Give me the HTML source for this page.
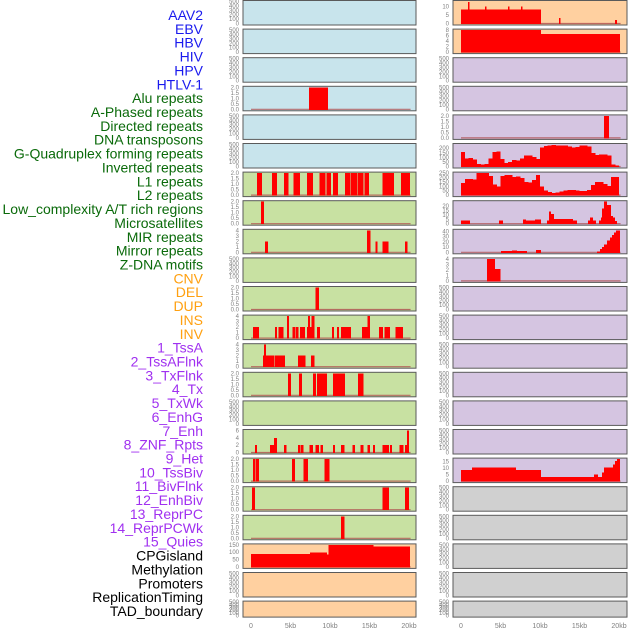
<!DOCTYPE html>
<html><head><meta charset="utf-8">
<style>
html,body{margin:0;padding:0;background:#fff;}
svg{display:block;font-family:"Liberation Sans",sans-serif;}
</style></head>
<body>
<svg id="chart" width="630" height="630" viewBox="0 0 630 630" xmlns="http://www.w3.org/2000/svg"></svg>
<script>
// ---------- data ----------
const trackLabels = ["AAV2","EBV","HBV","HIV","HPV","HTLV-1","Alu repeats","A-Phased repeats","Directed repeats","DNA transposons","G-Quadruplex forming repeats","Inverted repeats","L1 repeats","L2 repeats","Low_complexity A/T rich regions","Microsatellites","MIR repeats","Mirror repeats","Z-DNA motifs","CNV","DEL","DUP","INS","INV","1_TssA","2_TssAFlnk","3_TxFlnk","4_Tx","5_TxWk","6_EnhG","7_Enh","8_ZNF_Rpts","9_Het","10_TssBiv","11_BivFlnk","12_EnhBiv","13_ReprPC","14_ReprPCWk","15_Quies","CPGisland","Methylation","Promoters","ReplicationTiming","TAD_boundary"];
const labelGroups = ["virus","virus","virus","virus","virus","virus","repeat","repeat","repeat","repeat","repeat","repeat","repeat","repeat","repeat","repeat","repeat","repeat","repeat","sv","sv","sv","sv","sv","state","state","state","state","state","state","state","state","state","state","state","state","state","state","state","other","other","other","other","other"];
const xTickValues = [0,5,10,15,20];
const xTickLabels = ["0","5kb","10kb","15kb","20kb"];

// segments: [startKb, endKb, value]
const leftAlu = [[7.34,9.7,2]];
const leftL1 = [[0.8,1.35,2],[2.7,3.25,2],[4.2,4.7,2],[5.4,6.2,2],[7.1,7.85,2],[8.7,9.4,2],[9.6,10.1,2],[10.4,11.0,2],[11.9,12.5,2],[12.65,13.4,2],[13.5,14.2,2],[14.4,14.9,2],[16.7,18.1,2],[19.0,20.1,2]];
const leftRow7 = [[1.27,1.6,2]];
const leftRow8 = [[1.77,2.1,2],[14.7,15.1,4],[15.8,16.0,2],[16.7,17.0,2],[17.05,17.4,2],[19.5,19.8,2]];
const leftRow10 = [[8.2,8.55,2]];
const leftRow11 = [[0.3,1.0,2],[3.04,3.25,2],[3.5,4.1,2],[4.6,4.8,4],[5.3,5.6,2],[5.7,6.0,2],[6.2,6.8,2],[7.1,7.4,2],[7.25,7.45,4],[7.7,8.0,4],[7.45,7.7,2],[8.35,8.7,2],[10.25,10.5,2],[10.9,11.1,2],[11.4,12.65,2],[14.05,14.7,2],[14.8,15.05,4],[16.2,16.7,2],[16.95,17.6,2],[18.3,18.65,2],[18.7,19.2,2]];
const leftRow12 = [[1.57,2.9,2],[1.65,1.85,4],[3.0,4.3,2],[5.95,6.85,2],[7.6,8.0,2]];
const leftRow13 = [[4.7,5.05,2],[6.1,6.45,2],[7.85,8.2,2],[8.35,9.0,2],[9.1,9.6,2],[10.4,11.9,2],[13.55,14.2,2]];
const leftRow15 = [[0.5,0.72,2],[2.4,3.05,2],[2.95,3.25,4],[4.2,4.45,2],[5.95,6.2,2],[6.3,6.6,2],[7.45,7.85,2],[8.2,8.6,2],[8.85,9.1,2],[10.4,10.6,2],[11.4,11.8,2],[12.9,13.15,2],[13.9,14.2,2],[14.8,15.05,2],[15.45,15.7,2],[16.7,17.45,2],[17.6,17.85,2],[18.85,19.25,2],[19.5,19.75,2],[19.75,20.0,6]];
const leftRow16 = [[0.25,0.55,2],[0.63,1.0,2],[5.2,5.55,2],[6.7,7.2,2],[9.35,9.9,2]];
const leftRow17 = [[0.13,0.5,2],[16.7,17.45,2],[19.5,20.0,2]];
const leftRow18 = [[11.4,11.8,2]];
const leftCpg = [[0,7.5,87],[7.5,9.6,97],[9.6,9.85,85],[9.85,15.45,150],[15.45,20.1,140]];

const rightRow0 = [[0,10.1,8.2],[0.9,1.05,12.7],[3.04,3.2,10],[5.95,6.1,10],[7.6,7.75,10],[12.4,12.55,3.3],[19.5,19.7,2.2]];
const rightRow1 = [[0,10.1,8],[10.1,20.1,6.6]];
const rightRow4 = [[18.1,18.7,2]];
const rightRow5Bins = [160,85,95,75,30,20,30,85,160,165,80,40,50,70,65,85,120,120,105,80,210,225,230,235,230,230,230,220,205,215,230,230,220,150,125,130,130,120,20,10];
const rightRow6Bins = [140,185,185,175,250,250,250,215,120,95,215,230,230,205,210,195,150,145,170,230,100,50,35,25,30,40,55,60,60,55,45,45,60,115,150,150,125,105,205,205];
const rightRow7 = [[0,1.14,3.5],[4.81,5.32,3.5],[7.85,8.23,5],[8.23,9.37,3.5],[9.37,10.13,5],[10.93,11.14,3.5],[11.14,11.39,14],[11.39,11.77,11],[11.77,14.18,5.5],[14.18,14.68,3.5],[16.08,16.33,3.5],[16.33,16.71,7],[16.71,17.09,3.5],[17.47,17.72,3.5],[17.72,17.85,7],[17.85,18.1,17],[18.1,18.48,25],[18.48,18.99,21],[18.99,19.24,9],[19.24,19.49,7],[19.49,19.75,3]];
const rightRow8 = [[5.06,6.46,2.5],[6.46,7.09,3.5],[7.09,8.35,2.5],[9.49,10.13,4],[17.22,17.6,2],[17.6,17.85,6],[17.85,18.1,10],[18.1,18.48,15],[18.48,18.86,23],[18.86,19.11,28],[19.11,19.37,33],[19.37,19.62,38],[19.62,20.13,42]];
const rightRow9 = [[3.3,4.3,4],[4.3,4.95,2.2]];
const rightRow16 = [[0,1.39,8.5],[1.39,6.96,10.5],[6.96,10.13,8.5],[10.13,16.84,3],[16.84,17.34,5],[17.34,17.85,3],[17.85,18.1,6.5],[18.1,19.24,10.5],[19.24,19.49,13],[19.49,19.75,15.5],[19.75,20.13,17]];

// ticks per panel type
const ticksEmpty = [0,100,200,300,400,500];
const ticks2 = [0.0,0.5,1.0,1.5,2.0];
const ticks4 = [0,1,2,3,4];
const ticks6 = [0,2,4,6];
const ticksCpg = [0,50,100,150];
const ticksR0 = [0,5,10];
const ticksR1 = [0,2,4,6,8];
const ticksR5 = [0,50,100,150,200];
const ticksR6 = [0,50,100,150,200,250];
const ticksR7 = [0,5,10,15,20];
const ticksR8 = [0,10,20,30,40];
const ticksR16 = [0,5,10,15];

function binsToSegs(b){ return b.map((v,i)=>[i*0.5,(i+1)*0.5,v]); }

const C = {blue:"#c8e4ec",green:"#c8e1a2",orange:"#ffd0a0",purple:"#d5c5e1",grey:"#d0d0d0"};
const leftPanels = [
 {c:"blue"},{c:"blue"},{c:"blue"},{c:"blue",d:leftAlu,t:ticks2,m:2,f:1},{c:"blue"},{c:"blue"},
 {c:"green",d:leftL1,t:ticks2,m:2,f:1},{c:"green",d:leftRow7,t:ticks2,m:2,f:1},{c:"green",d:leftRow8,t:ticks4,m:4},
 {c:"green"},{c:"green",d:leftRow10,t:ticks2,m:2,f:1},{c:"green",d:leftRow11,t:ticks4,m:4},{c:"green",d:leftRow12,t:ticks4,m:4},
 {c:"green",d:leftRow13,t:ticks2,m:2,f:1},{c:"green"},{c:"green",d:leftRow15,t:ticks6,m:6},{c:"green",d:leftRow16,t:ticks2,m:2,f:1},
 {c:"green",d:leftRow17,t:ticks2,m:2,f:1},{c:"green",d:leftRow18,t:ticks2,m:2,f:1},{c:"orange",d:leftCpg,t:ticksCpg,m:150},
 {c:"orange"},{c:"orange"}
];
const rightPanels = [
 {c:"orange",d:rightRow0,t:ticksR0,m:13},{c:"orange",d:rightRow1,t:ticksR1,m:8},{c:"purple"},{c:"purple"},
 {c:"purple",d:rightRow4,t:ticks2,m:2,f:1},{c:"purple",d:binsToSegs(rightRow5Bins),t:ticksR5,m:240},
 {c:"purple",d:binsToSegs(rightRow6Bins),t:ticksR6,m:250},{c:"purple",d:rightRow7,t:ticksR7,m:25},
 {c:"purple",d:rightRow8,t:ticksR8,m:42},{c:"purple",d:rightRow9,t:ticks4,m:4},
 {c:"purple"},{c:"purple"},{c:"purple"},{c:"purple"},{c:"purple"},{c:"purple"},
 {c:"purple",d:rightRow16,t:ticksR16,m:17},{c:"grey"},{c:"grey"},{c:"grey"},{c:"grey"},{c:"grey"}
];

// ---------- drawing ----------
const NS="http://www.w3.org/2000/svg";
const svg=document.getElementById("chart");
function el(tag,attrs,parent){const e=document.createElementNS(NS,tag);for(const k in attrs)e.setAttribute(k,attrs[k]);(parent||svg).appendChild(e);return e;}

const labelColors={virus:"#1a1aee",repeat:"#0a6a0a",sv:"#ffa010",state:"#a030f0",other:"#000"};
trackLabels.forEach((t,i)=>{
  const tx=el("text",{x:203,y:(20+13.86*i).toFixed(1),"text-anchor":"end","font-size":"14",fill:labelColors[labelGroups[i]]});
  tx.textContent=t;
  
  
});

function panelTop(k){return 0.5+28.6*k;}
function panelH(k){return k===21?16:24.5;}

function drawColumn(panels,x0,x1,xZero,side){
  const pxPerKb=(409-251)/20;
  const xs=v=>xZero+v*pxPerKb;
  panels.forEach((p,k)=>{
    const top=panelTop(k),h=panelH(k);
    const g=el("g",{});
    
    
    el("rect",{x:x0,y:top,width:x1-x0,height:h,fill:C[p.c],stroke:"#5a5a5a","stroke-width":1},g);
    const ymax=p.m||500, ticks=p.t||ticksEmpty;
    const y0=top+h-1.5, y1=top+1;
    const ys=v=>y0-(v/ymax)*(y0-y1);
    ticks.forEach(tv=>{
      const tt=el("text",{x:x0-4,y:(ys(tv)+2).toFixed(1),"text-anchor":"end","font-size":"6",fill:"#808080"},g);
      tt.textContent=p.f?tv.toFixed(1):String(tv);
      
      
    });
    if(p.d){
      el("line",{x1:xs(0),x2:xs(20.2),y1:y0,y2:y0,stroke:"#b05050","stroke-width":1.2,opacity:0.8},g);
      p.d.forEach(s=>{
        const r=el("rect",{x:(xs(s[0])-0.2).toFixed(2),y:ys(s[2]).toFixed(2),width:Math.max(0.8,xs(s[1])-xs(s[0])+0.4).toFixed(2),height:Math.max(0,y0-ys(s[2])+0.5).toFixed(2),fill:"#ff0000","shape-rendering":"crispEdges"},g);
        
        
      });
    }
  });
  xTickValues.forEach((v,i)=>{
    const t=el("text",{x:xs(v),y:628,"text-anchor":"middle","font-size":"7",fill:"#808080"});
    t.textContent=xTickLabels[i];
    
    
  });
}
drawColumn(leftPanels,243,416,251,"left");
drawColumn(rightPanels,453,627,461,"right");
</script>
</body></html>
